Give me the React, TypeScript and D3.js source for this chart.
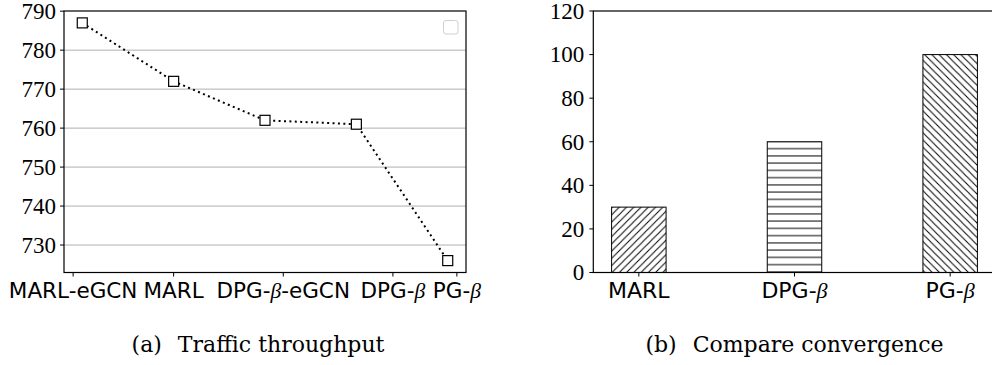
import { useEffect, useRef } from "react";
import * as d3 from "d3";

// (a) traffic throughput
const methods = ["MARL-eGCN", "MARL", "DPG-β-eGCN", "DPG-β", "PG-β"];
const throughput = [787, 772, 762, 761, 726];
const methodTickPos = [-0.1, 1.0, 2.2, 3.4, 4.1];
const throughputTicks = [730, 740, 750, 760, 770, 780, 790];

// (b) convergence
const convMethods = ["MARL", "DPG-β", "PG-β"];
const convergence = [30, 60, 100];
const convHatches = ["diag", "horiz", "back"];
const convTicks = [0, 20, 40, 60, 80, 100, 120];

const captionA = ["(a)", "Traffic throughput"];
const captionB = ["(b)", "Compare convergence"];

const W = 992;
const H = 365;
const TOP = 11;
const BOTTOM = 272.5;
const SANS = "'DejaVu Sans', sans-serif";
const SERIF = "'Liberation Serif', serif";
const CAP = "'DejaVu Serif', serif";

function addLabel(sel: d3.Selection<SVGTextElement, unknown, null, undefined>, text: string) {
  const parts = text.split("β");
  parts.forEach((p, i) => {
    if (p) sel.append("tspan").text(p);
    if (i < parts.length - 1)
      sel.append("tspan").attr("font-family", SERIF).attr("font-style", "italic").text("β");
  });
}

export default function App() {
  const svgRef = useRef<SVGSVGElement>(null);

  useEffect(() => {
    const svg = d3.select(svgRef.current);
    svg.selectAll("*").remove();

    // hatch patterns
    const s = 7.25;
    const defs = svg.append("defs");
    const hatchPaths: Record<string, string> = {
      diag: `M0,${s} L${s},0 M-1,1 L1,-1 M${s - 1},${s + 1} L${s + 1},${s - 1}`,
      back: `M0,0 L${s},${s} M-1,${s - 1} L1,${s + 1} M${s - 1},-1 L${s + 1},1`,
      horiz: `M0,${s / 2} L${s},${s / 2}`,
    };
    Object.entries(hatchPaths).forEach(([k, d]) => {
      const p = defs.append("pattern")
        .attr("id", `hatch-${k}`)
        .attr("patternUnits", "userSpaceOnUse")
        .attr("width", s).attr("height", s);
      p.append("rect").attr("width", s).attr("height", s).attr("fill", "#fff");
      p.append("path").attr("d", d).attr("stroke", "#000").attr("stroke-width", 1);
    });

    // ---------- (a) line chart ----------
    const pad = (d3.max(throughput)! - d3.min(throughput)!) * 0.05;
    const xA = d3.scaleLinear().domain([-0.2, throughput.length - 1 + 0.2]).range([64, 466]);
    const yA = d3.scaleLinear()
      .domain([d3.min(throughput)! - pad, d3.max(throughput)! + pad])
      .range([BOTTOM, TOP]);

    const gA = svg.append("g");

    // grid
    gA.selectAll("line.grid")
      .data(throughputTicks.filter(t => t < 790))
      .join("line")
      .attr("x1", xA.range()[0]).attr("x2", xA.range()[1])
      .attr("y1", d => yA(d)).attr("y2", d => yA(d))
      .attr("stroke", "#b0b0b0").attr("stroke-width", 1);

    // y ticks + labels
    throughputTicks.forEach(t => {
      gA.append("line")
        .attr("x1", xA.range()[0] - 4).attr("x2", xA.range()[0])
        .attr("y1", yA(t)).attr("y2", yA(t))
        .attr("stroke", "#000").attr("stroke-width", 1);
      gA.append("text")
        .attr("x", xA.range()[0] - 8).attr("y", yA(t))
        .attr("dy", "0.34em")
        .attr("text-anchor", "end")
        .attr("font-family", SERIF).attr("font-size", 23)
        .text(t);
    });

    // x ticks + labels
    methodTickPos.forEach((pos, i) => {
      gA.append("line")
        .attr("x1", xA(pos)).attr("x2", xA(pos))
        .attr("y1", BOTTOM).attr("y2", BOTTOM + 4)
        .attr("stroke", "#000").attr("stroke-width", 1);
      const t = gA.append("text")
        .attr("x", xA(pos)).attr("y", 297.5)
        .attr("text-anchor", "middle")
        .attr("font-family", SANS).attr("font-size", 21.5);
      addLabel(t, methods[i]);
    });

    // frame
    gA.append("rect")
      .attr("x", xA.range()[0]).attr("y", TOP)
      .attr("width", xA.range()[1] - xA.range()[0]).attr("height", BOTTOM - TOP)
      .attr("fill", "none").attr("stroke", "#000").attr("stroke-width", 1.2);

    // dotted line
    const line = d3.line<number>().x((_, i) => xA(i)).y(d => yA(d));
    gA.append("path")
      .attr("d", line(throughput))
      .attr("fill", "none").attr("stroke", "#000")
      .attr("stroke-width", 2)
      .attr("stroke-dasharray", "2,3.4");

    // square markers
    const m = 10;
    gA.selectAll("rect.mk")
      .data(throughput)
      .join("rect")
      .attr("class", "mk")
      .attr("x", (_, i) => xA(i) - m / 2).attr("y", d => yA(d) - m / 2)
      .attr("width", m).attr("height", m)
      .attr("fill", "#fff").attr("stroke", "#000").attr("stroke-width", 1.2);

    // empty legend
    gA.append("rect")
      .attr("x", 443.5).attr("y", 20.5).attr("width", 14.5).attr("height", 13.5)
      .attr("rx", 2.5)
      .attr("fill", "#fff").attr("stroke", "#d0d0d0").attr("stroke-width", 1);

    // ---------- (b) bar chart ----------
    const barW = 0.35;
    const mx = (convergence.length - 1 + barW) * 0.05;
    const xB = d3.scaleLinear()
      .domain([-barW / 2 - mx, convergence.length - 1 + barW / 2 + mx])
      .range([593.3, 995.7]);
    const yB = d3.scaleLinear().domain([0, 120]).range([BOTTOM, TOP]);
    const gB = svg.append("g");

    convTicks.forEach(t => {
      gB.append("line")
        .attr("x1", xB.range()[0] - 4).attr("x2", xB.range()[0])
        .attr("y1", yB(t)).attr("y2", yB(t))
        .attr("stroke", "#000").attr("stroke-width", 1);
      gB.append("text")
        .attr("x", xB.range()[0] - 9).attr("y", yB(t))
        .attr("dy", "0.34em")
        .attr("text-anchor", "end")
        .attr("font-family", SERIF).attr("font-size", 23)
        .text(t);
    });

    gB.selectAll("rect.bar")
      .data(convergence)
      .join("rect")
      .attr("class", "bar")
      .attr("x", (_, i) => xB(i - barW / 2))
      .attr("y", d => yB(d))
      .attr("width", (_, i) => xB(i + barW / 2) - xB(i - barW / 2))
      .attr("height", d => yB(0) - yB(d))
      .attr("fill", (_, i) => `url(#hatch-${convHatches[i]})`)
      .attr("stroke", "#000").attr("stroke-width", 1);

    convMethods.forEach((name, i) => {
      gB.append("line")
        .attr("x1", xB(i)).attr("x2", xB(i))
        .attr("y1", BOTTOM).attr("y2", BOTTOM + 4)
        .attr("stroke", "#000").attr("stroke-width", 1);
      const t = gB.append("text")
        .attr("x", xB(i)).attr("y", 297.5)
        .attr("text-anchor", "middle")
        .attr("font-family", SANS).attr("font-size", 22);
      addLabel(t, name);
    });

    gB.append("rect")
      .attr("x", xB.range()[0]).attr("y", TOP)
      .attr("width", xB.range()[1] - xB.range()[0]).attr("height", BOTTOM - TOP)
      .attr("fill", "none").attr("stroke", "#000").attr("stroke-width", 1.2);

    // ---------- captions ----------
    [[captionA, 258], [captionB, 794.5]].forEach(([cap, cx]) => {
      const c = cap as string[];
      const t = svg.append("text")
        .attr("x", cx as number).attr("y", 351.5)
        .attr("text-anchor", "middle")
        .attr("font-family", CAP).attr("font-size", 22);
      t.append("tspan").text(c[0]);
      t.append("tspan").attr("dx", 16).text(c[1]);
    });
  }, []);

  return (
    <svg
      ref={svgRef}
      width={W}
      height={H}
      style={{ position: "absolute", left: 0, top: 0, background: "#fff" }}
    />
  );
}
